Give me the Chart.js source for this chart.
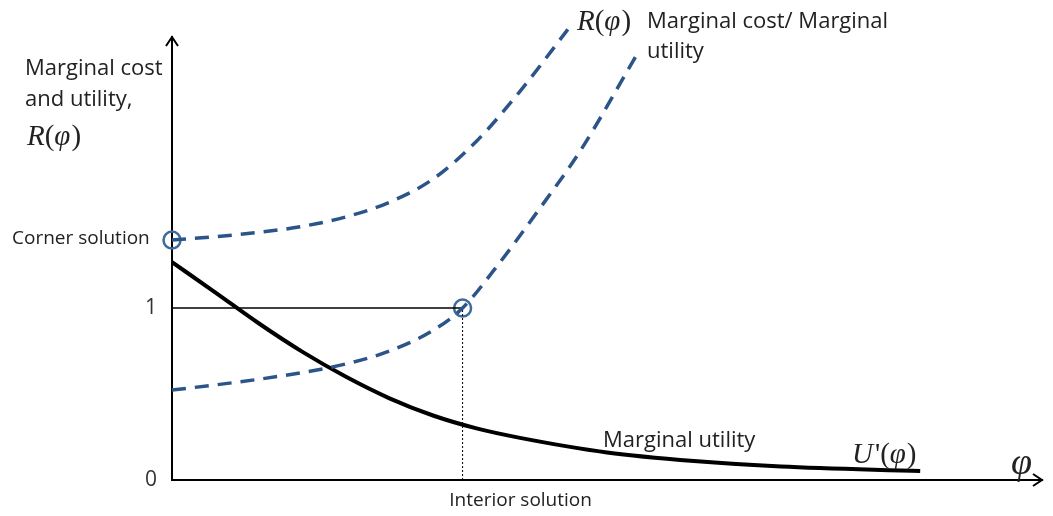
<!DOCTYPE html>
<html>
<head>
<meta charset="utf-8">
<script src="https://cdn.jsdelivr.net/npm/chart.js@4"></script>
<style>
  html, body { margin: 0; padding: 0; background: #ffffff; }
  #wrap { width: 1053px; height: 516px; }
</style>
</head>
<body>
<div id="wrap"><canvas id="chart" width="1053" height="516"></canvas></div>
<script>
// Curve R(phi) for the corner solution (upper dashed)
const cornerX = [0, 0.5, 1.0, 1.5, 2.0, 2.5, 3.0, 3.5, 4.0, 4.55];
const cornerY = [1.395, 1.415, 1.44, 1.475, 1.53, 1.615, 1.75, 1.97, 2.26, 2.62];

// Curve R(phi) for the interior solution (lower dashed)
const interiorX = [0, 0.5, 1.0, 1.5, 2.0, 2.5, 3.0, 3.34, 3.7, 4.2, 4.7, 5.35];
const interiorY = [0.523, 0.553, 0.586, 0.625, 0.675, 0.75, 0.87, 1.0, 1.22, 1.56, 1.92, 2.48];

// Marginal utility U'(phi)
const utilityX = [0, 0.5, 1.0, 1.5, 2.0, 2.5, 3.0, 3.5, 4.0, 5.0, 6.0, 7.0, 8.6];
const utilityY = [1.267, 1.09, 0.91, 0.745, 0.6, 0.475, 0.375, 0.3, 0.245, 0.16, 0.11, 0.078, 0.052];

// Solutions
const cornerPoint = { x: 0, y: 1.395 };
const interiorPoint = { x: 3.34, y: 1.0 };

// Tick labels
const yTicks = [0, 1];

function toPoints(xs, ys) {
  return xs.map((x, i) => ({ x: x, y: ys[i] }));
}

const blue = "#2b5489";
const textColor = "#222";

// write R(phi) style math: italic letters, upright brackets
function mathText(ctx, parts, x, y, size) {
  parts.forEach((p) => {
    ctx.font = (p.it ? "italic " : "") + size + "px 'Liberation Serif'";
    ctx.fillText(p.t, x, y);
    x += ctx.measureText(p.t).width + (p.gap || 0);
  });
}

// Draw arrows and annotation texts
const decorPlugin = {
  id: "decor",
  afterDraw(chart) {
    const ctx = chart.ctx;
    const xs = chart.scales.x;
    const ys = chart.scales.y;
    const x0 = xs.getPixelForValue(0);
    const y0 = ys.getPixelForValue(0);
    const xEnd = xs.getPixelForValue(xs.max);
    const yTop = ys.getPixelForValue(ys.max);

    ctx.save();
    ctx.strokeStyle = "#000";
    ctx.lineWidth = 2;
    // y arrow
    ctx.beginPath();
    ctx.moveTo(x0 - 6, yTop + 9);
    ctx.lineTo(x0, yTop);
    ctx.lineTo(x0 + 6, yTop + 9);
    ctx.stroke();
    // x arrow
    ctx.beginPath();
    ctx.moveTo(xEnd - 9, y0 - 6);
    ctx.lineTo(xEnd, y0);
    ctx.lineTo(xEnd - 9, y0 + 6);
    ctx.stroke();

    ctx.fillStyle = textColor;
    ctx.textBaseline = "alphabetic";
    ctx.textAlign = "left";
    ctx.font = "22px 'Open Sans'";
    ctx.fillText("Marginal cost", 25, 75);
    ctx.fillText("and utility,", 25, 106);
    ctx.fillText("Marginal cost/ Marginal", 647, 28);
    ctx.fillText("utility", 647, 58);
    ctx.fillText("Marginal utility", 603, 447);

    ctx.font = "19px 'Open Sans'";
    ctx.fillText("Corner solution", 12, 244);
    ctx.textAlign = "center";
    ctx.fillText("Interior solution", xs.getPixelForValue(interiorPoint.x) + 58, 506);

    // math labels
    ctx.textAlign = "left";
    const rPhi = [{ t: "R", it: true }, { t: "(" }, { t: "\u03c6", it: true, gap: 1 }, { t: ")" }];
    mathText(ctx, rPhi, 27, 145, 29);
    mathText(ctx, rPhi, 577, 30, 29);
    mathText(ctx, [{ t: "U", it: true, gap: 2 }, { t: "'" }, { t: "(" }, { t: "\u03c6", it: true, gap: 1 }, { t: ")" }], 852, 463, 29);
    ctx.font = "italic 38px 'Liberation Serif'";
    ctx.fillText("\u03c6", 1011, 474);
    ctx.restore();
  },
};

new Chart(document.getElementById("chart"), {
  type: "scatter",
  data: {
    datasets: [
      {
        label: "Marginal cost (corner)",
        data: toPoints(cornerX, cornerY),
        showLine: true,
        borderColor: blue,
        borderWidth: 3.5,
        borderDash: [14, 9],
        pointRadius: 0,
        cubicInterpolationMode: "monotone",
        clip: false,
      },
      {
        label: "Marginal cost (interior)",
        data: toPoints(interiorX, interiorY),
        showLine: true,
        borderColor: blue,
        borderWidth: 3.5,
        borderDash: [14, 9],
        pointRadius: 0,
        cubicInterpolationMode: "monotone",
        clip: false,
      },
      {
        label: "Marginal utility",
        data: toPoints(utilityX, utilityY),
        showLine: true,
        borderColor: "#000",
        borderWidth: 4,
        pointRadius: 0,
        cubicInterpolationMode: "monotone",
        clip: false,
      },
      {
        label: "Level 1",
        data: [{ x: 0, y: interiorPoint.y }, interiorPoint],
        showLine: true,
        borderColor: "#000",
        borderWidth: 1.5,
        pointRadius: 0,
      },
      {
        label: "Interior drop",
        data: [{ x: interiorPoint.x, y: 0 }, interiorPoint],
        showLine: true,
        borderColor: "#000",
        borderWidth: 1,
        borderDash: [2, 2],
        pointRadius: 0,
      },
      {
        label: "Solutions",
        data: [cornerPoint, interiorPoint],
        showLine: false,
        pointRadius: 8.5,
        pointBorderWidth: 2.5,
        pointBorderColor: "#3f6a9c",
        pointBackgroundColor: "rgba(0,0,0,0)",
        clip: false,
      },
    ],
  },
  options: {
    responsive: false,
    animation: false,
    events: [],
    layout: {
      padding: { top: 37, right: 10, left: 0, bottom: 0 },
    },
    plugins: {
      legend: { display: false },
      tooltip: { enabled: false },
    },
    scales: {
      x: {
        type: "linear",
        min: 0,
        max: 10,
        grid: { display: false },
        ticks: { display: false },
        border: { display: true, color: "#000", width: 2 },
        afterFit(scale) {
          scale.height = 36;
        },
      },
      y: {
        type: "linear",
        min: 0,
        max: 2.576,
        grid: { display: false },
        border: { display: true, color: "#000", width: 2 },
        afterBuildTicks(scale) {
          scale.ticks = yTicks.map((v) => ({ value: v }));
        },
        ticks: {
          padding: 7,
          color: "#333",
          font: { family: "'Open Sans'", size: 21 },
          callback: (v) => String(v),
        },
        afterFit(scale) {
          scale.width = 172;
        },
      },
    },
  },
  plugins: [decorPlugin],
});
</script>
</body>
</html>
